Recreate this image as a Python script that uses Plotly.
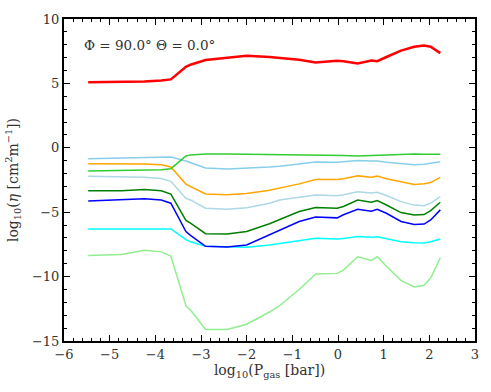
import plotly.graph_objects as go

# log10(P_gas [bar]) sample positions
log_p = [-5.47, -4.74, -4.24, -3.87, -3.66, -3.33, -3.23, -2.9, -2.43, -2.0, -1.5, -1.28,
         -0.85, -0.49, -0.02, 0.12, 0.43, 0.73, 0.86, 1.06, 1.38, 1.67, 1.885, 2.03, 2.24]

eta_red = [5.08, 5.11, 5.15, 5.23, 5.31, 6.28, 6.45, 6.82, 7.02, 7.15, 7.05, 6.98,
           6.83, 6.62, 6.75, 6.72, 6.54, 6.77, 6.72, 7.05, 7.55, 7.85, 7.95, 7.85, 7.35]
eta_limegreen = [-1.8, -1.78, -1.75, -1.7, -1.62, -0.64, -0.55, -0.49, -0.49, -0.5, -0.51, -0.52,
                 -0.55, -0.57, -0.58, -0.6, -0.64, -0.6, -0.6, -0.55, -0.49, -0.49, -0.5, -0.5, -0.51]
eta_skyblue = [-0.85, -0.8, -0.77, -0.74, -0.72, -1.03, -1.15, -1.57, -1.64, -1.6, -1.5, -1.44,
               -1.25, -1.1, -1.13, -1.1, -0.98, -1.02, -1.03, -1.12, -1.25, -1.31, -1.28, -1.22, -1.08]
eta_orange = [-1.23, -1.23, -1.26, -1.31, -1.49, -2.82, -3.0, -3.59, -3.64, -3.55, -3.3, -3.13,
              -2.8, -2.46, -2.46, -2.4, -2.18, -2.28, -2.2, -2.4, -2.65, -2.85, -2.8, -2.7, -2.3]
eta_lightblue = [-2.2, -2.28, -2.28, -2.38, -2.6, -3.92, -4.05, -4.69, -4.77, -4.65, -4.3, -4.05,
                 -3.85, -3.67, -3.72, -3.65, -3.41, -3.5, -3.46, -3.7, -4.18, -4.45, -4.49, -4.3, -3.8]
eta_green = [-3.33, -3.33, -3.23, -3.33, -3.59, -5.64, -5.85, -6.67, -6.7, -6.5, -5.9, -5.59,
             -4.95, -4.64, -4.69, -4.56, -4.05, -4.23, -4.1, -4.44, -5.03, -5.21, -5.18, -4.87, -4.23]
eta_blue = [-4.13, -4.05, -3.95, -4.05, -4.3, -6.5, -6.8, -7.65, -7.7, -7.55, -6.75, -6.36,
            -5.72, -5.38, -5.44, -5.2, -4.77, -4.92, -4.77, -5.08, -5.72, -5.95, -5.92, -5.6, -4.82]
eta_cyan = [-6.3, -6.3, -6.3, -6.3, -6.3, -7.13, -7.3, -7.65, -7.7, -7.72, -7.55, -7.44,
            -7.25, -7.03, -7.08, -7.05, -6.88, -6.95, -6.9, -7.05, -7.3, -7.38, -7.4, -7.3, -7.08]
eta_lightgreen = [-8.36, -8.28, -7.95, -8.08, -8.4, -12.26, -12.6, -14.1, -14.1, -13.7, -12.75, -12.26,
                  -11.0, -9.8, -9.75, -9.5, -8.46, -8.75, -8.46, -9.2, -10.3, -10.8, -10.67, -10.1, -8.55]

series = [
    (eta_lightgreen, '#90EE90', 1.5),
    (eta_cyan, '#00FFFF', 1.5),
    (eta_blue, '#0000FF', 1.5),
    (eta_green, '#008000', 1.5),
    (eta_lightblue, '#ADD8E6', 1.5),
    (eta_orange, '#FFA500', 1.5),
    (eta_skyblue, '#87CEEB', 1.5),
    (eta_limegreen, '#32CD32', 1.5),
    (eta_red, '#FF0000', 2.5),
]

SERIF = 'DejaVu Serif'

fig = go.Figure()
for vals, col, w in series:
    fig.add_trace(go.Scatter(x=log_p, y=vals, mode='lines',
                             line=dict(color=col, width=w), showlegend=False))

axis_common = dict(
    showline=True, linecolor='black', linewidth=2, mirror='allticks',
    ticks='inside', ticklen=6, tickwidth=1.2, tickcolor='black',
    showgrid=False, zeroline=False,
    tickfont=dict(family=SERIF, size=13, color='#333'),
)

fig.update_layout(
    width=491, height=392,
    margin=dict(l=62, r=12, t=16, b=51),
    plot_bgcolor='white', paper_bgcolor='white',
    font=dict(family=SERIF, color='#333'),
    xaxis=dict(range=[-6, 3], dtick=1, tick0=0,
               minor=dict(ticks='inside', dtick=0.2, ticklen=3, tickcolor='black', tickwidth=1),
               title=dict(text='log<sub>10</sub>(P<sub>gas</sub> [bar])', standoff=3,
                          font=dict(family=SERIF, size=14)),
               **axis_common),
    yaxis=dict(range=[-15, 10], dtick=5, tick0=0,
               minor=dict(ticks='inside', dtick=1, ticklen=3, tickcolor='black', tickwidth=1),
               title=dict(text='log<sub>10</sub>(<i>η</i> [cm<sup>2</sup>m<sup>−1</sup>])', standoff=10,
                          font=dict(family=SERIF, size=14)),
               **axis_common),
    annotations=[dict(text='Φ = 90.0° Θ = 0.0°', xref='x', yref='y', x=-5.6, y=8.0,
                      xanchor='left', yanchor='middle', showarrow=False,
                      font=dict(family=SERIF, size=13.5, color='#333'))],
)

fig.write_html("out.html", config={'displayModeBar': False},
               post_script="document.body.style.margin='0';document.body.style.overflow='hidden';")
